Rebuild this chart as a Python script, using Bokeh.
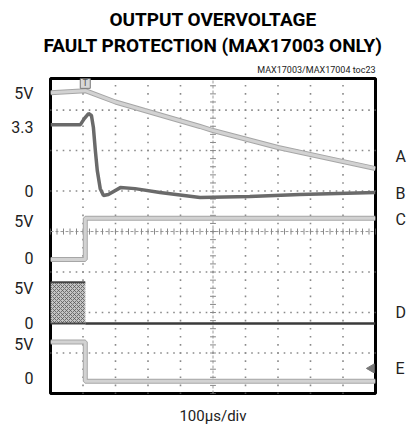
import numpy as np
from bokeh.plotting import figure
from bokeh.models import FixedTicker, LinearAxis, Title
from bokeh.core.properties import value
from bokeh.embed import file_html
from bokeh.resources import INLINE

FONT = "Roboto"

# time axis in divisions (100 us/div), 10 divisions
a_t = [0.0, 1.07, 2.0, 2.9, 4.6, 5.0, 7.0, 10.0]
a_v = [4.86, 4.96, 4.40, 3.98, 3.19, 2.99, 2.15, 1.11]

b_t = [0.0, 0.92, 1.04, 1.17, 1.26, 1.32, 1.38, 1.44, 1.53, 1.63, 1.78,
       2.15, 2.6, 3.37, 4.6, 6.13, 7.67, 10.0]
b_v = [3.28, 3.28, 3.58, 3.83, 3.73, 3.14, 2.0, 1.01, 0.12, -0.22, -0.17,
       0.17, 0.12, -0.07, -0.32, -0.27, -0.17, -0.07]

c_t = [0.0, 1.07, 1.07, 10.0]
c_v = [-0.1, -0.1, 5.0, 5.0]

d_t = [1.07, 10.0]
d_v = [0.0, 0.0]
d_noise_t = [0.0, 1.07]
d_noise_v = [0.0, 5.1]

e_t = [0.0, 1.07, 1.07, 10.0]
e_v = [4.85, 4.85, 0.0, 0.0]

# channel zero position (divisions) and volts/div
ch_offset = {"A": 5.0, "B": 5.0, "C": 3.33, "D": 1.73, "E": 0.30}
ch_scale = {"A": 2.0, "B": 2.0, "C": 5.0, "D": 5.0, "E": 5.0}

left_tick_pos = [7.41, 6.57, 4.99, 4.25, 3.33, 2.59, 1.73, 1.21, 0.37]
left_tick_text = ["5V", "3.3", "0", "5V", "0", "5V", "0", "5V", "0"]

right_label_pos = [5.85, 4.94, 4.30, 2.0, 0.62]
right_label_text = ["A", "B", "C", "D", "E"]

trigger_t = 1.07
ground_marker = (9.88, 0.62)

title1 = "OUTPUT OVERVOLTAGE"
title2 = "FAULT PROTECTION (MAX17003 ONLY)"
subtitle = "MAX17003/MAX17004 toc23"
xlabel = "100\u00b5s/div"

X_DIVS = 10
Y_TOP = 7.78


def scr(ch, volts):
    return [ch_offset[ch] + v / ch_scale[ch] for v in volts]


def plain_axis(axis, size="16px", standoff=17):
    axis.axis_line_color = None
    axis.major_tick_line_color = None
    axis.minor_tick_line_color = None
    axis.major_tick_out = 0
    axis.major_tick_in = 0
    axis.major_label_standoff = standoff
    axis.major_label_text_font = FONT
    axis.major_label_text_font_size = size
    axis.major_label_text_color = "#222222"


W, H = 409, 434
p = figure(width=W, height=H, x_range=(0, X_DIVS), y_range=(0, Y_TOP),
           output_backend="svg", toolbar_location=None,
           x_axis_location=None, y_axis_location="left",
           min_border_left=50, min_border_right=33,
           min_border_top=78, min_border_bottom=41)
p.background_fill_color = "white"
p.border_fill_color = "white"
p.outline_line_color = "black"
p.outline_line_width = 3
p.xgrid.visible = False
p.ygrid.visible = False

ax = p.yaxis[0]
ax.ticker = FixedTicker(ticks=left_tick_pos)
ax.major_label_overrides = {v: t for v, t in zip(left_tick_pos, left_tick_text)}
plain_axis(ax, standoff=17)

rax = LinearAxis(ticker=FixedTicker(ticks=right_label_pos),
                 major_label_overrides={v: t for v, t in zip(right_label_pos, right_label_text)})
plain_axis(rax, standoff=20)
p.add_layout(rax, "right")

bax = LinearAxis(ticker=FixedTicker(ticks=[]), axis_label=xlabel)
plain_axis(bax, standoff=0)
bax.major_label_text_font_size = "0px"
bax.axis_label_text_font = FONT
bax.axis_label_text_font_size = "15px"
bax.axis_label_text_font_style = "normal"
bax.axis_label_text_color = "#222222"
bax.axis_label_standoff = 13
p.add_layout(bax, "below")

# titles: first added sits closest to the frame
p.add_layout(Title(text=subtitle, align="right", text_font=FONT, text_font_size="9px",
                   text_font_style="normal", text_color="#222222", standoff=8), "above")
p.add_layout(Title(text=title2, align="center", text_font=FONT, text_font_size="19px",
                   text_font_style="bold", text_color="black", standoff=3), "above")
p.add_layout(Title(text=title1, align="center", text_font=FONT, text_font_size="19px",
                   text_font_style="bold", text_color="black", standoff=0), "above")

# graticule dots
gx, gy = [], []
for yy in range(1, 8):
    if yy == 4:
        continue
    for xx in np.arange(0, X_DIVS + 0.01, 0.2):
        gx.append(xx); gy.append(yy)
for xx in range(1, X_DIVS):
    if xx == 5:
        continue
    for yy in np.arange(0, Y_TOP, 0.2):
        gx.append(xx); gy.append(yy)
p.scatter(gx, gy, marker="square", size=1.6, color="#8a8a8a", line_width=0)

# center axes with ticks
p.line([0, X_DIVS], [4, 4], line_color="#9a9a9a", line_width=1, line_dash="3 2")
p.line([5, 5], [0, Y_TOP], line_color="#9a9a9a", line_width=1, line_dash="3 2")
tx = np.arange(0, X_DIVS + 0.01, 0.2)
p.segment(x0=tx, y0=4 - 0.075, x1=tx, y1=4 + 0.075, line_color="#888888", line_width=1)
ty = np.arange(0, Y_TOP, 0.2)
p.segment(x0=5 - 0.09, y0=ty, x1=5 + 0.09, y1=ty, line_color="#888888", line_width=1)

# D noise block
p.quad(left=d_noise_t[0], right=d_noise_t[1],
       bottom=scr("D", [d_noise_v[0]])[0], top=scr("D", [d_noise_v[1]])[0],
       fill_color="#c4c4c4", line_color=None,
       hatch_pattern="diagonal_cross", hatch_color="#5a5a5a",
       hatch_scale=4, hatch_weight=0.8)
p.line(d_noise_t, scr("D", [d_noise_v[1]] * 2), line_color="#444444", line_width=2)
p.line([0, d_t[0]], scr("D", [0, 0]), line_color="#444444", line_width=2)

# traces
def light(t, y):
    p.line(t, y, line_color="#a6a6a6", line_width=5)
    p.line(t, y, line_color="#d2d2d2", line_width=3)

light(a_t, scr("A", a_v))
p.line(b_t, scr("B", b_v), line_color="#6a6a6a", line_width=3.5)
light(c_t, scr("C", c_v))
p.line(d_t, scr("D", d_v), line_color="#3a3a3a", line_width=2.5)
light(e_t, scr("E", e_v))

# trigger marker & ground marker
p.scatter([trigger_t], [7.66], marker="square", size=10, fill_color="#d8d8d8",
          line_color="#777777", line_width=1)
p.text([trigger_t], [7.66], text=["T"], text_align="center", text_baseline="middle",
       text_font=value(FONT), text_font_size="9px", text_color="#555555")
p.scatter([ground_marker[0]], [ground_marker[1]], marker="triangle", angle=np.pi / 2,
          size=9, fill_color="#777777", line_color="#777777")

open("out.html", "w").write(file_html(p, INLINE))
